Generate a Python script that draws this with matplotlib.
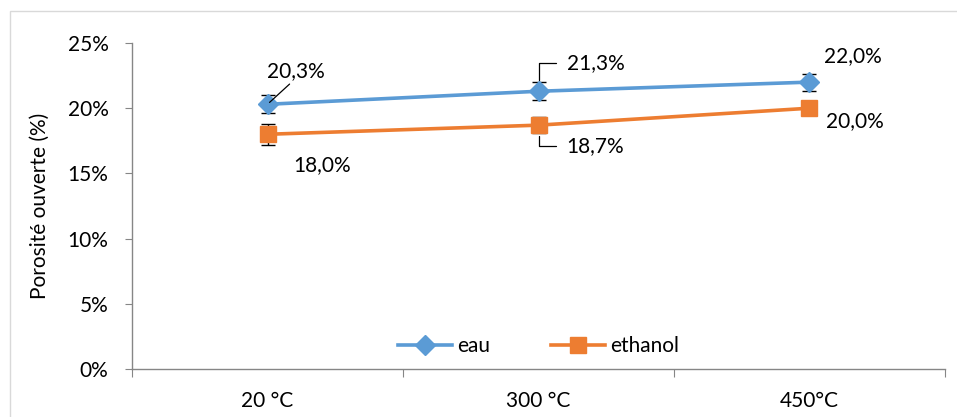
import numpy as np
import matplotlib
matplotlib.use('Agg')
import matplotlib.pyplot as plt
from matplotlib.patches import Rectangle
from matplotlib.ticker import FuncFormatter

plt.rcParams['font.family'] = ['Lato', 'DejaVu Sans']

categories = ['20 °C', '300 °C', '450°C']
eau = [20.3, 21.3, 22.0]
eau_err = [0.7, 0.7, 0.65]
ethanol = [18.0, 18.7, 20.0]
ethanol_err = [0.8, 0.6, 0.3]
eau_labels = ['20,3%', '21,3%', '22,0%']
ethanol_labels = ['18,0%', '18,7%', '20,0%']

blue = '#5B9BD5'
orange = '#ED7D31'
gray = '#868686'
fs = 15

W, H = 957, 417
fig = plt.figure(figsize=(W / 100, H / 100), dpi=100)
ax = fig.add_axes([132 / W, 1 - 369 / H, (945 - 132) / W, (369 - 43) / H])

# outer chart frame (only top and left are in view)
fig.patches.append(Rectangle((10 / W, -0.2), 1.2, 1.2 - 11 / H, transform=fig.transFigure,
                             fill=False, edgecolor='#D9D9D9', linewidth=1))

x = np.arange(len(categories))

ax.errorbar(x, eau, yerr=eau_err, fmt='none', ecolor='black', elinewidth=1, capsize=5, capthick=1, zorder=2)
ax.errorbar(x, ethanol, yerr=ethanol_err, fmt='none', ecolor='black', elinewidth=1, capsize=5, capthick=1, zorder=2)
ax.plot(x, eau, color=blue, lw=2.6, marker='D', ms=10.5, mec=blue, mfc=blue, label='eau', zorder=3)
ax.plot(x, ethanol, color=orange, lw=2.6, marker='s', ms=12, mec=orange, mfc=orange, label='ethanol', zorder=3)

px = 72 / 100  # pixels -> points


def label(i, y, txt, dx, dy, leader=None):
    kw = dict(textcoords='offset points', ha='center', va='center', fontsize=fs, zorder=5)
    if leader == 'line':
        kw['arrowprops'] = dict(arrowstyle='-', color='black', lw=0.9, shrinkA=0, shrinkB=2,
                                relpos=(0.45, 0.0))
    elif leader == 'elbow':
        kw['arrowprops'] = dict(arrowstyle='-', color='black', lw=0.9, shrinkA=6, shrinkB=8,
                                relpos=(0.0, 0.5), connectionstyle='angle,angleA=0,angleB=90,rad=0')
    ax.annotate(txt, (x[i], y), xytext=(dx * px, dy * px), **kw)


label(0, eau[0], eau_labels[0], 28, 33, 'line')
label(1, eau[1], eau_labels[1], 57, 28, 'elbow')
label(2, eau[2], eau_labels[2], 43, 26)
label(0, ethanol[0], ethanol_labels[0], 55, -31)
label(1, ethanol[1], ethanol_labels[1], 57, -21, 'elbow')
label(2, ethanol[2], ethanol_labels[2], 45, -13)

ax.set_xlim(-0.5, 2.5)
ax.set_ylim(0, 25)
ax.set_yticks(np.arange(0, 26, 5))
ax.yaxis.set_major_formatter(FuncFormatter(lambda v, p: '%d%%' % v))
ax.set_xticks([-0.5, 0.5, 1.5, 2.5])
ax.set_xticklabels([])
ax.set_xticks(x, minor=True)
ax.set_xticklabels(categories, minor=True)
ax.tick_params(axis='x', which='major', length=6, color=gray, direction='out')
ax.tick_params(axis='x', which='minor', length=0, pad=16, labelsize=fs)
ax.tick_params(axis='y', length=5, color=gray, direction='out', pad=12, labelsize=fs)

for s in ['top', 'right']:
    ax.spines[s].set_visible(False)
for s in ['left', 'bottom']:
    ax.spines[s].set_color(gray)
    ax.spines[s].set_linewidth(1)

ax.set_ylabel('Porosité ouverte (%)', fontsize=fs, labelpad=13)

ax.legend(loc='lower center', bbox_to_anchor=(0.5, 0.0), ncol=2, frameon=False, fontsize=fs,
          handlelength=2.6, columnspacing=2.9, handletextpad=0.25, borderaxespad=0.2)

fig.savefig('out.png', dpi=100)
